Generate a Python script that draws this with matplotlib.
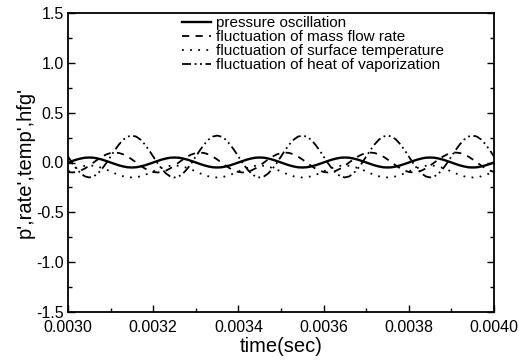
import numpy as np
import matplotlib
matplotlib.use("Agg")
import matplotlib.pyplot as plt
from matplotlib.ticker import MultipleLocator, FormatStrFormatter

plt.rcParams['font.family'] = ['Liberation Sans', 'DejaVu Sans']

# time samples (s)
time = np.round(np.arange(0.0030, 0.0040 + 0.000005, 0.00001), 5)

pressure = [
    0.000, 0.015, 0.029, 0.040, 0.048, 0.050, 0.048, 0.040, 0.029, 0.015,
    0.000, -0.015, -0.029, -0.040, -0.048, -0.050, -0.048, -0.040, -0.029, -0.015,
    0.000, 0.015, 0.029, 0.040, 0.048, 0.050, 0.048, 0.040, 0.029, 0.015,
    0.000, -0.015, -0.029, -0.040, -0.048, -0.050, -0.048, -0.040, -0.029, -0.015,
    0.000, 0.015, 0.029, 0.040, 0.048, 0.050, 0.048, 0.040, 0.029, 0.015,
    0.000, -0.015, -0.029, -0.040, -0.048, -0.050, -0.048, -0.040, -0.029, -0.015,
    0.000, 0.015, 0.029, 0.040, 0.048, 0.050, 0.048, 0.040, 0.029, 0.015,
    0.000, -0.015, -0.029, -0.040, -0.048, -0.050, -0.048, -0.040, -0.029, -0.015,
    0.000, 0.015, 0.029, 0.040, 0.048, 0.050, 0.048, 0.040, 0.029, 0.015,
    0.000, -0.015, -0.029, -0.040, -0.048, -0.050, -0.048, -0.040, -0.029, -0.015,
    0.000,
]

mass_flow = [
    -0.095, -0.100, -0.095, -0.081, -0.059, -0.031, 0.000, 0.031, 0.059, 0.081,
    0.095, 0.100, 0.095, 0.081, 0.059, 0.031, 0.000, -0.031, -0.059, -0.081,
    -0.095, -0.100, -0.095, -0.081, -0.059, -0.031, 0.000, 0.031, 0.059, 0.081,
    0.095, 0.100, 0.095, 0.081, 0.059, 0.031, 0.000, -0.031, -0.059, -0.081,
    -0.095, -0.100, -0.095, -0.081, -0.059, -0.031, 0.000, 0.031, 0.059, 0.081,
    0.095, 0.100, 0.095, 0.081, 0.059, 0.031, 0.000, -0.031, -0.059, -0.081,
    -0.095, -0.100, -0.095, -0.081, -0.059, -0.031, 0.000, 0.031, 0.059, 0.081,
    0.095, 0.100, 0.095, 0.081, 0.059, 0.031, 0.000, -0.031, -0.059, -0.081,
    -0.095, -0.100, -0.095, -0.081, -0.059, -0.031, 0.000, 0.031, 0.059, 0.081,
    0.095, 0.100, 0.095, 0.081, 0.059, 0.031, 0.000, -0.031, -0.059, -0.081,
    -0.095,
]

surface_temp = [
    -0.090, -0.071, -0.055, -0.041, -0.033, -0.030, -0.033, -0.041, -0.055, -0.071,
    -0.090, -0.109, -0.125, -0.139, -0.147, -0.150, -0.147, -0.139, -0.125, -0.109,
    -0.090, -0.071, -0.055, -0.041, -0.033, -0.030, -0.033, -0.041, -0.055, -0.071,
    -0.090, -0.109, -0.125, -0.139, -0.147, -0.150, -0.147, -0.139, -0.125, -0.109,
    -0.090, -0.071, -0.055, -0.041, -0.033, -0.030, -0.033, -0.041, -0.055, -0.071,
    -0.090, -0.109, -0.125, -0.139, -0.147, -0.150, -0.147, -0.139, -0.125, -0.109,
    -0.090, -0.071, -0.055, -0.041, -0.033, -0.030, -0.033, -0.041, -0.055, -0.071,
    -0.090, -0.109, -0.125, -0.139, -0.147, -0.150, -0.147, -0.139, -0.125, -0.109,
    -0.090, -0.071, -0.055, -0.041, -0.033, -0.030, -0.033, -0.041, -0.055, -0.071,
    -0.090, -0.109, -0.125, -0.139, -0.147, -0.150, -0.147, -0.139, -0.125, -0.109,
    -0.090,
]

heat_vap = [
    0.060, -0.005, -0.063, -0.110, -0.140, -0.150, -0.140, -0.110, -0.063, -0.005,
    0.060, 0.125, 0.183, 0.230, 0.260, 0.270, 0.260, 0.230, 0.183, 0.125,
    0.060, -0.005, -0.063, -0.110, -0.140, -0.150, -0.140, -0.110, -0.063, -0.005,
    0.060, 0.125, 0.183, 0.230, 0.260, 0.270, 0.260, 0.230, 0.183, 0.125,
    0.060, -0.005, -0.063, -0.110, -0.140, -0.150, -0.140, -0.110, -0.063, -0.005,
    0.060, 0.125, 0.183, 0.230, 0.260, 0.270, 0.260, 0.230, 0.183, 0.125,
    0.060, -0.005, -0.063, -0.110, -0.140, -0.150, -0.140, -0.110, -0.063, -0.005,
    0.060, 0.125, 0.183, 0.230, 0.260, 0.270, 0.260, 0.230, 0.183, 0.125,
    0.060, -0.005, -0.063, -0.110, -0.140, -0.150, -0.140, -0.110, -0.063, -0.005,
    0.060, 0.125, 0.183, 0.230, 0.260, 0.270, 0.260, 0.230, 0.183, 0.125,
    0.060,
]

labels = [
    "pressure oscillation",
    "fluctuation of mass flow rate",
    "fluctuation of surface temperature",
    "fluctuation of heat of vaporization",
]

fig = plt.figure(figsize=(5.25, 3.63), dpi=100)
ax = fig.add_axes([68 / 525, 1 - 312 / 363, 426 / 525, 299 / 363])

ax.plot(time, pressure, color='black', lw=1.7, linestyle='-', label=labels[0])
ax.plot(time, mass_flow, color='black', lw=1.3, linestyle=(0, (4, 3.5)), label=labels[1])
ax.plot(time, surface_temp, color='black', lw=1.3, linestyle=(0, (1, 3.5)), label=labels[2])
ax.plot(time, heat_vap, color='black', lw=1.3, linestyle=(0, (5, 2, 1, 2, 1, 2)), label=labels[3])

ax.set_xlim(0.0030, 0.0040)
ax.set_ylim(-1.5, 1.5)
ax.xaxis.set_major_locator(MultipleLocator(0.0002))
ax.xaxis.set_minor_locator(MultipleLocator(0.0001))
ax.xaxis.set_major_formatter(FormatStrFormatter('%.4f'))
ax.yaxis.set_major_locator(MultipleLocator(0.5))
ax.yaxis.set_minor_locator(MultipleLocator(0.25))
ax.yaxis.set_major_formatter(FormatStrFormatter('%.1f'))

ax.tick_params(which='both', direction='in', top=False, right=True, labelsize=11.5, width=1.0)
ax.tick_params(axis='y', pad=3)
ax.tick_params(axis='x', pad=6)
ax.tick_params(which='major', length=5)
ax.tick_params(which='minor', length=3)
for s in ax.spines.values():
    s.set_linewidth(1.3)

ax.set_xlabel("time(sec)", fontsize=14.5, labelpad=1)
ax.set_ylabel("p',rate',temp',hfg'", fontsize=14.5, labelpad=1)

leg = ax.legend(loc='upper left', bbox_to_anchor=(0.268, 0.99), frameon=False,
                fontsize=11, handlelength=1.9, handletextpad=0.3,
                labelspacing=0.0, borderpad=0, borderaxespad=0)

fig.savefig("out.png", dpi=100)
